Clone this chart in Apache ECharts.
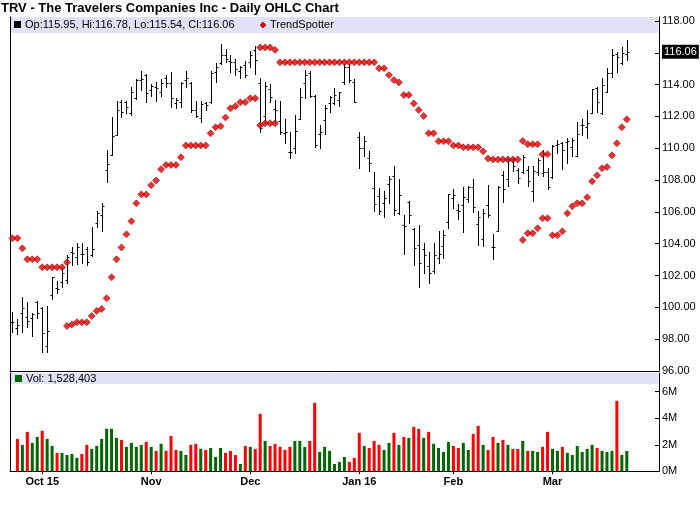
<!DOCTYPE html>
<html>
<head>
<meta charset="utf-8">
<script src="https://cdn.jsdelivr.net/npm/echarts@6/dist/echarts.min.js"></script>
<style>
html,body{margin:0;padding:0;background:#fff;}
#c{width:700px;height:512px;}
</style>
</head>
<body>
<div id="c"></div>
<script>
// ---- data ----
var dates = [
'2015-09-23','2015-09-24','2015-09-25','2015-09-28','2015-09-29','2015-09-30',
'2015-10-01','2015-10-02','2015-10-05','2015-10-06','2015-10-07','2015-10-08','2015-10-09','2015-10-12','2015-10-13','2015-10-14','2015-10-15','2015-10-16','2015-10-19','2015-10-20','2015-10-21','2015-10-22','2015-10-23','2015-10-26','2015-10-27','2015-10-28','2015-10-29','2015-10-30',
'2015-11-02','2015-11-03','2015-11-04','2015-11-05','2015-11-06','2015-11-09','2015-11-10','2015-11-11','2015-11-12','2015-11-13','2015-11-16','2015-11-17','2015-11-18','2015-11-19','2015-11-20','2015-11-23','2015-11-24','2015-11-25','2015-11-27','2015-11-30',
'2015-12-01','2015-12-02','2015-12-03','2015-12-04','2015-12-07','2015-12-08','2015-12-09','2015-12-10','2015-12-11','2015-12-14','2015-12-15','2015-12-16','2015-12-17','2015-12-18','2015-12-21','2015-12-22','2015-12-23','2015-12-24','2015-12-28','2015-12-29','2015-12-30','2015-12-31',
'2016-01-04','2016-01-05','2016-01-06','2016-01-07','2016-01-08','2016-01-11','2016-01-12','2016-01-13','2016-01-14','2016-01-15','2016-01-19','2016-01-20','2016-01-21','2016-01-22','2016-01-25','2016-01-26','2016-01-27','2016-01-28','2016-01-29',
'2016-02-01','2016-02-02','2016-02-03','2016-02-04','2016-02-05','2016-02-08','2016-02-09','2016-02-10','2016-02-11','2016-02-12','2016-02-16','2016-02-17','2016-02-18','2016-02-19','2016-02-22','2016-02-23','2016-02-24','2016-02-25','2016-02-26','2016-02-29',
'2016-03-01','2016-03-02','2016-03-03','2016-03-04','2016-03-07','2016-03-08','2016-03-09','2016-03-10','2016-03-11','2016-03-14','2016-03-15','2016-03-16','2016-03-17','2016-03-18','2016-03-21','2016-03-22'
];
var padAfter = 6; // empty trading slots right of the last bar

var openP = [
99.06,98.68,99.63,99.42,99.31,100.36,99.94,97.60,100.78,101.20,101.62,101.72,103.50,103.19,103.36,103.65,103.29,105.28,105.81,108.63,
109.58,110.84,112.93,112.90,112.20,113.14,114.29,114.60,113.66,113.87,113.56,114.40,114.08,112.83,112.93,114.29,114.08,112.41,111.88,112.85,
112.93,114.82,115.34,115.86,115.50,115.40,114.88,115.23,115.44,116.18,114.10,112.00,113.73,112.47,111.71,110.94,109.75,110.00,111.82,114.12,
114.71,113.30,110.88,111.78,112.87,112.82,113.03,114.15,115.09,114.15,110.73,110.00,109.37,107.52,107.02,106.54,107.73,108.28,105.95,105.18,
106.60,104.93,103.92,103.65,102.60,102.31,103.08,103.86,105.34,106.90,106.12,106.43,106.81,107.54,105.24,104.30,106.43,103.82,104.82,108.30,
108.05,109.22,108.63,108.53,108.63,107.34,108.53,108.42,108.53,108.17,110.20,110.31,110.40,110.10,109.52,111.46,111.32,112.24,113.77,112.20,
113.56,114.75,115.93,115.34,115.95];
var highP = [
99.73,99.25,100.67,100.36,99.63,100.42,100.04,100.09,101.93,101.66,102.52,103.29,103.82,104.07,104.07,103.82,105.07,106.06,106.54,109.89,
111.95,112.97,113.03,112.97,113.83,114.35,114.86,114.67,114.04,114.19,114.35,114.60,114.77,113.14,114.19,114.88,114.15,112.99,112.99,112.93,
114.86,115.34,116.55,116.24,115.86,115.61,115.19,115.50,116.14,116.45,114.40,114.15,114.02,113.03,112.97,111.84,111.00,112.09,113.77,114.92,
114.86,113.35,111.46,112.72,113.29,113.77,113.56,115.28,115.28,114.33,111.00,110.79,109.83,108.53,107.48,107.31,108.26,108.88,108.07,105.80,
106.71,104.97,105.18,104.02,103.46,104.02,104.80,104.86,107.12,107.44,106.48,107.54,107.63,108.07,106.06,106.18,107.69,104.61,107.63,108.59,
109.37,109.37,108.74,109.58,108.89,108.89,109.37,109.89,108.74,110.20,110.52,110.42,110.62,110.62,111.67,111.82,112.41,113.72,113.83,114.40,
115.03,116.24,116.03,116.39,116.78];
var lowP = [
98.47,98.33,98.47,98.79,98.22,99.31,97.22,97.22,100.51,100.92,101.30,101.55,102.66,102.73,102.77,102.66,103.23,105.07,104.82,107.90,
109.58,110.84,111.95,112.20,112.09,113.10,113.66,112.93,113.31,112.99,113.31,113.83,112.62,112.51,112.62,113.87,112.30,111.95,111.67,112.41,
112.82,114.15,115.30,115.40,114.77,114.60,114.40,114.46,115.13,114.67,111.04,111.57,112.93,111.57,110.88,110.31,109.37,109.68,111.82,113.14,
113.24,110.10,110.04,110.88,112.30,112.76,112.68,114.02,114.19,112.89,108.78,109.54,108.57,106.06,105.85,105.66,106.58,105.80,105.85,103.35,
105.32,102.66,101.26,102.14,101.55,102.18,102.77,103.08,105.01,106.22,105.53,104.76,106.60,106.02,103.92,103.86,105.66,103.04,104.82,106.64,
107.63,108.59,107.84,108.47,107.63,106.71,108.32,108.26,107.42,108.11,109.73,108.68,109.10,109.52,109.52,110.84,110.62,112.24,112.30,112.15,
113.52,114.46,114.82,115.30,115.54];
var closeP = [
99.10,98.89,99.98,99.14,99.56,99.65,98.37,98.50,101.89,101.13,102.18,103.14,103.40,103.82,103.36,102.87,103.65,105.95,106.37,108.99,
110.77,112.41,112.30,112.57,113.52,114.29,114.35,113.45,113.94,113.77,114.12,114.08,113.14,113.03,114.08,114.40,112.41,112.03,112.78,112.70,
114.71,115.09,115.86,115.61,115.44,114.98,115.10,114.60,115.86,115.55,111.25,113.90,113.20,112.40,111.04,111.00,109.79,111.09,113.20,114.60,
113.31,110.20,111.00,112.51,113.24,113.35,113.52,115.09,114.29,112.89,110.00,110.48,109.05,106.48,106.06,106.85,108.07,106.12,107.06,105.13,
105.80,103.71,102.77,103.29,102.18,103.29,103.35,104.55,107.10,107.06,106.06,106.92,107.54,106.33,105.70,105.90,105.80,103.82,107.54,107.43,
109.26,108.89,108.11,109.47,107.96,108.57,109.26,108.53,107.58,110.14,110.27,109.89,110.48,110.52,110.90,111.46,111.61,113.70,112.93,113.98,
114.75,115.86,115.76,116.00,116.06];

// volume in millions of shares (first day has no volume bar in the reference)
var volumeM = [
null,2.44,1.99,2.97,2.14,2.59,3.05,2.44,1.91,1.39,1.39,1.23,1.31,1.01,1.31,1.99,1.69,1.91,2.44,3.20,
3.20,2.52,2.37,1.84,2.14,1.84,1.99,2.22,1.84,1.54,2.07,1.54,2.67,1.61,1.54,1.23,1.99,2.07,1.69,1.61,
1.76,1.08,1.76,1.39,1.54,1.23,0.55,1.91,1.84,1.69,4.33,2.29,1.91,2.07,1.84,1.61,1.84,2.29,2.29,1.84,
2.29,5.16,1.46,1.84,1.54,0.55,0.71,1.08,0.71,1.01,2.90,1.91,1.76,2.29,1.99,1.61,2.14,2.90,1.99,2.59,
2.52,3.35,3.20,2.52,2.97,2.07,1.76,1.46,2.22,1.91,1.76,2.14,1.61,2.82,3.43,1.99,1.61,2.59,2.14,2.37,
1.99,1.69,1.69,2.29,1.54,1.54,1.46,1.84,2.97,1.69,1.54,1.84,1.39,1.23,1.91,1.46,1.69,1.99,1.76,1.54,
1.46,1.54,5.31,1.23,1.528403];

// TrendSpotter stops (upper = above price, lower = below price)
var trendUpper = [
104.34,104.34,103.71,103.02,103.02,103.02,102.52,102.52,102.52,102.52,102.52,102.83,null,null,null,null,null,null,null,null,
null,null,null,null,null,null,null,null,null,null,null,null,null,null,null,null,null,null,null,null,
null,null,null,null,null,null,null,null,null,null,116.34,116.34,116.34,116.18,115.40,115.40,115.40,115.40,115.40,115.40,
115.40,115.40,115.40,115.40,115.40,115.40,115.40,115.40,115.40,115.40,115.40,115.40,115.40,115.40,115.03,115.03,114.60,114.29,114.14,113.35,
113.35,112.82,112.40,112.03,110.94,110.94,110.44,110.44,110.44,110.18,110.18,110.06,110.06,110.06,110.06,109.81,109.35,109.30,109.30,109.30,
109.30,109.30,109.30,110.46,110.25,110.25,110.25,109.62,109.62,null,null,null,null,null,null,null,null,null,null,null,
null,null,null,null,null];
var trendLower = [
null,null,null,null,null,null,null,null,null,null,null,98.83,98.93,99.06,99.06,99.06,99.46,99.77,99.90,100.57,
101.89,103.02,103.77,104.59,105.41,106.54,107.10,107.10,107.68,107.98,108.68,108.95,108.95,108.95,109.43,110.18,110.18,110.18,110.18,110.18,
110.94,111.32,111.38,111.94,112.51,112.64,112.89,112.89,113.14,113.14,111.44,111.57,111.57,111.57,null,null,null,null,null,null,
null,null,null,null,null,null,null,null,null,null,null,null,null,null,null,null,null,null,null,null,
null,null,null,null,null,null,null,null,null,null,null,null,null,null,null,null,null,null,null,null,
null,null,null,104.24,104.66,104.66,104.97,105.60,105.60,104.53,104.53,104.78,105.91,106.35,106.54,106.54,106.92,107.92,108.30,108.74,
108.82,109.56,110.31,111.32,111.82];

var priceTicks = [96,98,100,102,104,106,108,110,112,114,116,118];
var volTicksM = [0,2,4,6];
var monthStarts = ['2015-10-01','2015-11-02','2015-12-01','2016-01-04','2016-02-01','2016-03-01'];
var monthLabels = ['Oct 15','Nov','Dec','Jan 16','Feb','Mar'];
var lastVolume = 1528403;

// ---- build ----
var cats = dates.slice();
for (var i = 0; i < padAfter; i++) cats.push('pad' + i);

var ohlcData = [];
for (var i = 0; i < dates.length; i++) ohlcData.push([i, openP[i], highP[i], lowP[i], closeP[i]]);

var GREEN = '#006600', RED = '#ff0000';
var volData = [];
for (var i = 0; i < dates.length; i++) {
  if (volumeM[i] == null) { volData.push('-'); continue; }
  var up = i === 0 ? true : closeP[i] >= closeP[i - 1];
  volData.push({ value: volumeM[i] * 1e6, itemStyle: { color: up ? GREEN : RED } });
}
function toSeries(arr){ return arr.map(function(v){ return v == null ? '-' : v; }); }

var n = dates.length;
var lastO = openP[n-1], lastH = highP[n-1], lastL = lowP[n-1], lastC = closeP[n-1];
function fmtInt(v){ return String(v).replace(/\B(?=(\d{3})+(?!\d))/g, ','); }

var FONT = '"Liberation Sans", Arial, Helvetica, sans-serif';
var labelMap = {};
monthStarts.forEach(function(d, k){ labelMap[d] = monthLabels[k]; });

// price grid geometry: 118 at y=21, 96 at y=371, grid top at y=17
var pTop = 17, pBottom = 371;
var pxPerDollar = (pBottom - 21) / (118 - 96);
var pMax = 118 + (21 - pTop) / pxPerDollar;
// volume grid: 0 at y=471.3, 6M at y=391.7, grid top at y=373
var vTop = 373, vBottom = 471.3;
var pxPerM = (vBottom - 391.7) / 6;
var vMax = (vBottom - vTop) / pxPerM * 1e6;

var chart = echarts.init(document.getElementById('c'), null, {renderer: 'canvas'});

var MARK = { color: '#e60000', borderColor: '#8c0000', borderWidth: 0.7 };

var option = {
  animation: false,
  backgroundColor: '#ffffff',
  textStyle: { fontFamily: FONT },
  title: {
    text: 'TRV - The Travelers Companies Inc - Daily OHLC Chart',
    left: 1, top: 2, padding: 0,
    textStyle: { fontSize: 13, fontWeight: 'bold', color: '#000', fontFamily: FONT }
  },
  graphic: [
    { type: 'rect', z: 0, shape: { x: 10.5, y: 17, width: 648, height: 16 }, style: { fill: '#e1e1f8' } },
    { type: 'rect', z: 0, shape: { x: 10.5, y: 373, width: 648, height: 11 }, style: { fill: '#e1e1f8' } },
    { type: 'rect', z: 5, shape: { x: 14, y: 21, width: 7, height: 7 }, style: { fill: '#000' } },
    { type: 'text', z: 5, x: 25, y: 25, style: { text: 'Op:' + lastO.toFixed(2) + ', Hi:' + lastH.toFixed(2) + ', Lo:' + lastL.toFixed(2) + ', Cl:' + lastC.toFixed(2), font: '11px ' + FONT, fill: '#000', verticalAlign: 'middle' } },
    { type: 'polygon', z: 5, shape: { points: [[263,22],[266,25],[263,28],[260,25]] }, style: { fill: MARK.color, stroke: MARK.borderColor, lineWidth: 0.7 } },
    { type: 'text', z: 5, x: 270, y: 25, style: { text: 'TrendSpotter', font: '11px ' + FONT, fill: '#000', verticalAlign: 'middle' } },
    { type: 'rect', z: 5, shape: { x: 15, y: 375, width: 7, height: 7 }, style: { fill: '#006600' } },
    { type: 'text', z: 5, x: 26, y: 378.5, style: { text: 'Vol: ' + fmtInt(lastVolume), font: '11px ' + FONT, fill: '#000', verticalAlign: 'middle' } }
  ],
  grid: [
    { left: 10, right: 41, top: pTop, height: pBottom - pTop, show: false },
    { left: 10, right: 41, top: vTop, height: vBottom - vTop, show: false }
  ],
  xAxis: [
    { type: 'category', gridIndex: 0, data: cats, boundaryGap: true,
      axisLine: { show: true, lineStyle: { color: '#000', width: 1 } },
      axisTick: { show: false }, axisLabel: { show: false }, splitLine: { show: false } },
    { type: 'category', gridIndex: 1, data: cats, boundaryGap: true,
      axisLine: { show: true, lineStyle: { color: '#000', width: 1 } },
      axisTick: { show: true, alignWithLabel: true, length: 3, lineStyle: { color: '#000' },
        interval: function(idx, val){ return labelMap[val] !== undefined; } },
      axisLabel: { show: true, margin: 5, fontSize: 11, fontWeight: 'bold', color: '#000', fontFamily: FONT,
        interval: function(idx, val){ return labelMap[val] !== undefined; },
        formatter: function(val){ return labelMap[val] || ''; } },
      splitLine: { show: false } }
  ],
  yAxis: [
    { type: 'value', gridIndex: 0, position: 'right', min: 96, max: pMax, interval: 2, scale: false,
      axisLine: { show: true, lineStyle: { color: '#000' } },
      axisTick: { show: true, inside: true, length: 4, lineStyle: { color: '#000' }, customValues: priceTicks },
      axisLabel: { show: true, margin: 3, fontSize: 11, color: '#000', fontFamily: FONT,
        customValues: priceTicks.filter(function(v){ return Math.abs(v - lastC) > 0.5; }),
        formatter: function(v){ return v.toFixed(2); } },
      splitLine: { show: false } },
    { type: 'value', gridIndex: 1, position: 'right', min: 0, max: vMax, interval: 2e6,
      axisLine: { show: true, lineStyle: { color: '#000' } },
      axisTick: { show: true, inside: true, length: 4, lineStyle: { color: '#000' }, customValues: volTicksM.map(function(v){ return v * 1e6; }) },
      axisLabel: { show: true, margin: 3, fontSize: 11, color: '#000', fontFamily: FONT,
        customValues: volTicksM.map(function(v){ return v * 1e6; }),
        formatter: function(v){ return Math.round(v / 1e6) + 'M'; } },
      splitLine: { show: false } },
    { type: 'value', gridIndex: 0, position: 'left', min: 96, max: pMax,
      axisLine: { show: true, lineStyle: { color: '#000' } }, axisTick: { show: false }, axisLabel: { show: false }, splitLine: { show: false } },
    { type: 'value', gridIndex: 1, position: 'left', min: 0, max: vMax,
      axisLine: { show: true, lineStyle: { color: '#000' } }, axisTick: { show: false }, axisLabel: { show: false }, splitLine: { show: false } }
  ],
  series: [
    {
      name: 'OHLC', type: 'custom', xAxisIndex: 0, yAxisIndex: 0, z: 3,
      encode: { x: 0, y: [1, 2, 3, 4] },
      data: ohlcData,
      renderItem: function(params, api){
        var idx = api.value(0);
        var o = api.coord([idx, api.value(1)]);
        var h = api.coord([idx, api.value(2)]);
        var l = api.coord([idx, api.value(3)]);
        var c = api.coord([idx, api.value(4)]);
        var x = Math.round(o[0]) + 0.5;
        var oy = Math.round(o[1]) + 0.5, cy = Math.round(c[1]) + 0.5;
        var st = { stroke: '#000', lineWidth: 1 };
        return { type: 'group', children: [
          { type: 'line', shape: { x1: x, y1: Math.round(h[1]), x2: x, y2: Math.round(l[1]) + 1 }, style: st },
          { type: 'line', shape: { x1: x - 2, y1: oy, x2: x, y2: oy }, style: st },
          { type: 'line', shape: { x1: x, y1: cy, x2: x + 2, y2: cy }, style: st }
        ]};
      }
    },
    {
      name: 'TrendSpotter', type: 'scatter', xAxisIndex: 0, yAxisIndex: 0, z: 4,
      data: toSeries(trendUpper), symbol: 'diamond', symbolSize: 7,
      itemStyle: MARK
    },
    {
      name: 'TrendSpotter2', type: 'scatter', xAxisIndex: 0, yAxisIndex: 0, z: 4,
      data: toSeries(trendLower), symbol: 'diamond', symbolSize: 7,
      itemStyle: MARK
    },
    {
      name: 'LastClose', type: 'line', xAxisIndex: 0, yAxisIndex: 0, z: 6,
      data: [], showSymbol: false,
      markLine: {
        silent: true, symbol: 'none', animation: false,
        lineStyle: { color: 'rgba(0,0,0,0)', width: 1, type: 'solid' },
        label: { show: true, position: 'end', distance: 3, formatter: lastC.toFixed(2),
          color: '#fff', backgroundColor: '#000', padding: [2, 2, 1, 2], fontSize: 11, fontFamily: FONT, opacity: 1 },
        emphasis: { disabled: true },
        data: [{ yAxis: lastC }]
      }
    },
    {
      name: 'Volume', type: 'bar', xAxisIndex: 1, yAxisIndex: 1, barWidth: 3,
      data: volData
    }
  ]
};
chart.setOption(option);
</script>
</body>
</html>
